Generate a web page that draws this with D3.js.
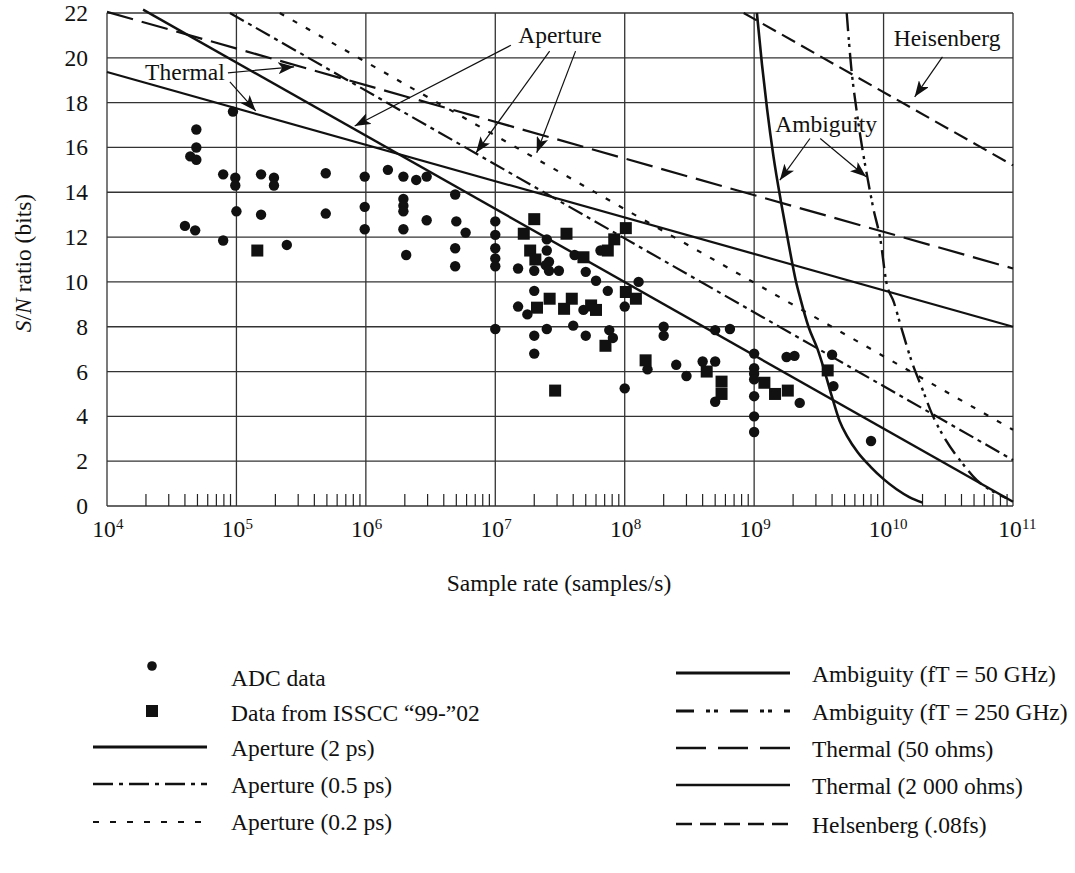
<!DOCTYPE html>
<html><head><meta charset="utf-8">
<script src="https://cdn.jsdelivr.net/npm/d3@7"></script>
<style>
body{margin:0;background:#fff}
text{font-family:"Liberation Serif","Times New Roman",serif;fill:#111}
</style>
</head><body>
<svg id="c" width="1075" height="873"></svg>
<script>
// ---------------- DATA ----------------
const xTickExponents = [4,5,6,7,8,9,10,11];
const yTickValues = [0,2,4,6,8,10,12,14,16,18,20,22];

// ADC data (sample rate in samples/s, S/N in bits)
const adcRate = [9.4e4,4.9e4,4.9e4,4.4e4,4.9e4,7.9e4,9.8e4,9.8e4,1.55e5,1.95e5,1.95e5,4.9e5,9.8e5,1.48e6,1.95e6,2.45e6,2.95e6,4.9e6,5.0e6,5.9e6,
  1e7,1e7,1e7,1e7,1e7,1e7,4.9e6,4.9e6,1.95e6,1.95e6,1.95e6,1.95e6,2.05e6,2.95e6,9.8e5,9.8e5,4.9e5,1.55e5,1.0e5,4.0e4,4.8e4,7.9e4,2.45e5,
  1.5e7,2.0e7,2.0e7,1.5e7,1.77e7,2.0e7,2.0e7,2.5e7,2.5e7,2.6e7,2.45e7,2.6e7,3.1e7,2.5e7,4.0e7,4.1e7,5.0e7,6.0e7,6.5e7,4.8e7,5.0e7,7.4e7,7.6e7,
  1.28e8,1.0e8,8.1e7,2.0e8,2.0e8,1.5e8,2.5e8,3.0e8,4.0e8,5.0e8,5.0e8,6.5e8,1.0e8,5.0e8,
  1e9,1e9,1e9,1e9,1e9,1e9,1e9,1.78e9,2.05e9,2.25e9,4.0e9,4.1e9,8.0e9];
const adcBits = [17.6,16.8,16.0,15.6,15.45,14.8,14.65,14.3,14.8,14.65,14.3,14.85,14.7,15.0,14.7,14.55,14.7,13.9,12.7,12.2,
  12.7,12.1,11.5,11.05,10.7,7.9,11.5,10.7,13.7,13.4,13.15,12.35,11.2,12.75,13.35,12.35,13.05,13.0,13.15,12.5,12.3,11.85,11.65,
  10.6,10.5,9.6,8.9,8.55,7.6,6.8,11.9,11.4,10.9,10.75,10.5,10.5,7.9,8.05,11.2,10.45,10.05,11.4,8.75,7.6,9.6,7.85,
  10.0,8.9,7.5,8.0,7.6,6.1,6.3,5.8,6.45,6.45,7.85,7.9,5.25,4.65,
  6.8,6.15,5.9,5.65,4.9,4.0,3.3,6.65,6.7,4.6,6.75,5.35,2.9];

// Data from ISSCC '99-'02
const isscRate = [1.45e5,2.0e7,1.66e7,3.55e7,1.86e7,2.04e7,2.63e7,2.1e7,3.9e7,3.4e7,5.5e7,6.0e7,4.8e7,7.1e7,2.9e7,
  1.02e8,8.3e7,7.4e7,1.02e8,1.22e8,1.45e8,4.3e8,5.6e8,5.6e8,1.2e9,1.45e9,1.82e9,3.7e9];
const isscBits = [11.4,12.8,12.15,12.15,11.4,11.0,9.25,8.85,9.25,8.8,8.95,8.75,11.1,7.15,5.15,
  12.4,11.9,11.4,9.55,9.25,6.5,6.0,5.55,5.0,5.5,5.0,5.15,6.05];

// Limit lines (sample rate, bits)
const aperture2Rate = [1.9e4, 1e11],   aperture2Bits = [22.15, 0.19];
const aperture05Rate = [8.9e4, 1e11],  aperture05Bits = [22.0, 2.05];
const aperture02Rate = [2.16e5, 1e11], aperture02Bits = [22.0, 3.4];
const thermal50Rate = [1e4, 1e11],     thermal50Bits = [22.05, 10.6];
const thermal2000Rate = [1e4, 1e11],   thermal2000Bits = [19.37, 8.0];
const heisenbergRate = [8.3e8, 1e11],  heisenbergBits = [22.0, 15.2];
const ambig50Rate = [1.05e9,1.15e9,1.26e9,1.41e9,1.62e9,1.86e9,2.09e9,2.29e9,2.63e9,3.09e9,3.55e9,3.98e9,4.57e9,5.25e9,6.31e9,7.94e9,1.0e10,1.26e10,1.58e10,2.0e10];
const ambig50Bits = [22,19.7,17.7,15.6,13.5,11.6,10.1,9.2,8.0,7.0,5.9,4.9,3.8,3.1,2.4,1.75,1.2,0.75,0.4,0.15];
const ambig250Rate = [5.19e9,5.62e9,6.17e9,6.92e9,7.59e9,8.32e9,9.44e9,1.05e10,1.2e10,1.38e10,1.66e10,2.0e10,2.37e10,3.02e10,4.07e10,5.25e10,6.76e10,8.9e10];
const ambig250Bits = [22,19.6,17.7,15.8,14.5,13.3,11.9,10.0,9.1,7.9,6.4,5.2,4.1,2.95,1.9,1.15,0.7,0.35];

// Annotations: label, [rate,bits] of text, arrows [from rate,bits, to rate,bits]
const annotLabels = ["Thermal","Aperture","Heisenberg","Ambiguity"];
const annotAt = [[4.0e4,19.38],[3.16e7,21.0],[3.1e10,20.9],[3.6e9,17.05]];
const arrowFrom = [[8.6e4,19.33],[8.9e4,18.93],[1.32e7,20.56],[2.63e7,20.3],[4.17e7,20.3],[2.85e10,20.04],[2.7e9,16.4],[3.24e9,16.4]];
const arrowTo   = [[2.79e5,19.6],[1.41e5,17.63],[8.2e5,16.96],[7.1e6,15.76],[2.09e7,15.76],[1.74e10,18.26],[1.58e9,14.54],[7.33e9,14.69]];

const legendLeftLabels = ["ADC data","Data from ISSCC \u201c99-\u201d02","Aperture (2 ps)","Aperture (0.5 ps)","Aperture (0.2 ps)"];
const legendRightLabels = ["Ambiguity (fT = 50 GHz)","Ambiguity (fT = 250 GHz)","Thermal (50 ohms)","Thermal (2 000 ohms)","Helsenberg (.08fs)"];

// ---------------- CHART ----------------
const svg = d3.select("#c");
const x = d3.scaleLog().domain([1e4,1e11]).range([107,1013]);
const y = d3.scaleLinear().domain([0,22]).range([506,13]);
const INK = "#111";
const FS = 23.5;

// arrow marker
svg.append("defs").append("marker").attr("id","ah")
  .attr("markerUnits","userSpaceOnUse").attr("markerWidth",18).attr("markerHeight",12)
  .attr("refX",16).attr("refY",6).attr("orient","auto")
  .append("path").attr("d","M0,0 L16,6 L0,12 L4,6 Z").attr("fill",INK);

// grid
const g = svg.append("g");
g.selectAll(".vg").data(xTickExponents).join("line")
  .attr("x1",d=>x(Math.pow(10,d))).attr("x2",d=>x(Math.pow(10,d)))
  .attr("y1",y(0)).attr("y2",y(22)).attr("stroke","#333").attr("stroke-width",1.3);
g.selectAll(".hg").data(yTickValues).join("line")
  .attr("x1",x(1e4)).attr("x2",x(1e11))
  .attr("y1",d=>y(d)).attr("y2",d=>y(d)).attr("stroke","#333").attr("stroke-width",1.3);

// minor ticks
const minor = [];
for (let e=4;e<11;e++) for (let m=2;m<=9;m++) minor.push(m*Math.pow(10,e));
g.selectAll(".mt").data(minor).join("line")
  .attr("x1",d=>x(d)).attr("x2",d=>x(d)).attr("y1",y(0)).attr("y2",y(0)-12)
  .attr("stroke","#222").attr("stroke-width",1.2);

// tick labels
g.selectAll(".yl").data(yTickValues).join("text")
  .attr("x",88).attr("y",d=>y(d)+8).attr("text-anchor","end")
  .attr("font-size",FS).text(d=>d);
const xl = g.selectAll(".xl").data(xTickExponents).join("g")
  .attr("transform",d=>`translate(${x(Math.pow(10,d))},0)`);
xl.append("text").attr("x",-3).attr("y",537).attr("text-anchor","middle").attr("font-size",FS).text("10");
xl.append("text").attr("x",9).attr("y",529).attr("font-size",15).text(d=>d);

// axis titles
svg.append("text").attr("x",559).attr("y",591).attr("text-anchor","middle").attr("font-size",FS)
  .text("Sample rate (samples/s)");
const yt = svg.append("text").attr("transform","translate(31,263) rotate(-90)")
  .attr("text-anchor","middle").attr("font-size",FS);
yt.append("tspan").attr("font-style","italic").text("S");
yt.append("tspan").text("/");
yt.append("tspan").attr("font-style","italic").text("N");
yt.append("tspan").text(" ratio (bits)");

// lines
const lineGen = d3.line().x(d=>x(d[0])).y(d=>y(d[1]));
const curveGen = d3.line().x(d=>x(d[0])).y(d=>y(d[1])).curve(d3.curveMonotoneX);
const zip = (a,b)=>a.map((v,i)=>[v,b[i]]);
const series = [
  {r:thermal50Rate,b:thermal50Bits,w:2.2,dash:"27,9",gen:lineGen},
  {r:thermal2000Rate,b:thermal2000Bits,w:2.2,dash:null,gen:lineGen},
  {r:aperture2Rate,b:aperture2Bits,w:2.4,dash:null,gen:lineGen},
  {r:aperture05Rate,b:aperture05Bits,w:2.2,dash:"16,5,4,5",gen:lineGen},
  {r:aperture02Rate,b:aperture02Bits,w:2.2,dash:"5,10",gen:lineGen},
  {r:heisenbergRate,b:heisenbergBits,w:2.2,dash:"15,7",gen:lineGen},
  {r:ambig50Rate,b:ambig50Bits,w:2.6,dash:null,gen:curveGen},
  {r:ambig250Rate,b:ambig250Bits,w:2.4,dash:"18,6,3,4,3,6",gen:curveGen}
];
svg.append("g").selectAll("path").data(series).join("path")
  .attr("d",s=>s.gen(zip(s.r,s.b))).attr("fill","none").attr("stroke",INK)
  .attr("stroke-width",s=>s.w).attr("stroke-dasharray",s=>s.dash);

// scatter
svg.append("g").selectAll("circle").data(zip(adcRate,adcBits)).join("circle")
  .attr("cx",d=>x(d[0])).attr("cy",d=>y(d[1])).attr("r",5.2).attr("fill",INK);
svg.append("g").selectAll("rect").data(zip(isscRate,isscBits)).join("rect")
  .attr("x",d=>x(d[0])-6).attr("y",d=>y(d[1])-6).attr("width",12).attr("height",12).attr("fill",INK);

// annotations
svg.append("g").selectAll("text").data(annotLabels).join("text")
  .attr("x",(d,i)=>x(annotAt[i][0])).attr("y",(d,i)=>y(annotAt[i][1])+8)
  .attr("text-anchor","middle").attr("font-size",FS).text(d=>d);
svg.append("g").selectAll("line").data(arrowFrom).join("line")
  .attr("x1",d=>x(d[0])).attr("y1",d=>y(d[1]))
  .attr("x2",(d,i)=>x(arrowTo[i][0])).attr("y2",(d,i)=>y(arrowTo[i][1]))
  .attr("stroke",INK).attr("stroke-width",1.2).attr("marker-end","url(#ah)");

// legend
const leftRowY = [666,711,747,784,822];
const leftTextY = [686,721,756,793,830];
const lg = svg.append("g");
lg.append("circle").attr("cx",152).attr("cy",leftRowY[0]).attr("r",4.8).attr("fill",INK);
lg.append("rect").attr("x",146).attr("y",leftRowY[1]-6).attr("width",12).attr("height",12).attr("fill",INK);
const leftStyles = [null,null,{w:3,dash:null},{w:2.4,dash:"20,6,4,6"},{w:2,dash:"6,11"}];
leftStyles.forEach((s,i)=>{ if(!s) return;
  lg.append("line").attr("x1",93).attr("x2",207).attr("y1",leftRowY[i]).attr("y2",leftRowY[i])
    .attr("stroke",INK).attr("stroke-width",s.w).attr("stroke-dasharray",s.dash);});
lg.selectAll(".lt").data(legendLeftLabels).join("text")
  .attr("x",231).attr("y",(d,i)=>leftTextY[i]).attr("font-size",FS).text(d=>d);

const rightRowY = [673,711,748,785,824];
const rightTextY = [682,720,757,794,833];
const rightStyles = [{w:3.2,dash:null},{w:3,dash:"18,12,4,4,4,12"},{w:2.6,dash:"30,12"},{w:2.6,dash:null},{w:2.6,dash:"16,8"}];
rightStyles.forEach((s,i)=>{
  lg.append("line").attr("x1",676).attr("x2",790).attr("y1",rightRowY[i]).attr("y2",rightRowY[i])
    .attr("stroke",INK).attr("stroke-width",s.w).attr("stroke-dasharray",s.dash);});
lg.selectAll(".rt").data(legendRightLabels).join("text")
  .attr("x",812).attr("y",(d,i)=>rightTextY[i]).attr("font-size",FS).text(d=>d);
</script>
</body></html>
